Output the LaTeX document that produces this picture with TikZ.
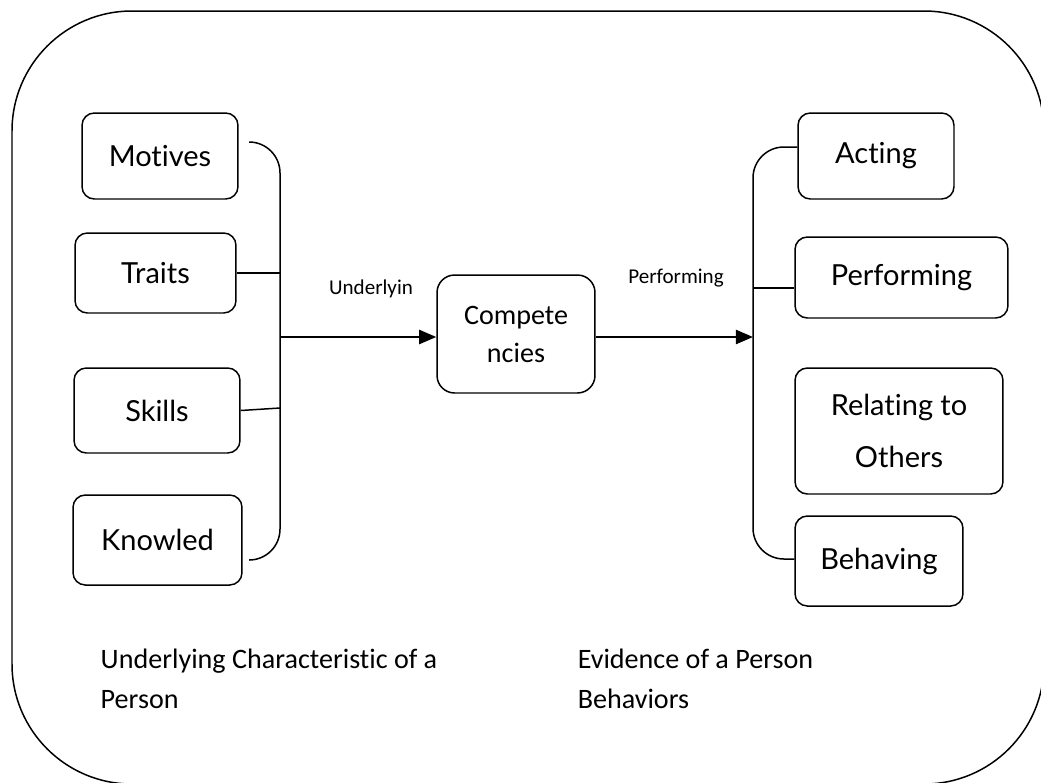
\documentclass[tikz,border=0pt]{standalone}
\usepackage{fontspec}
\setmainfont{Carlito}[Ligatures={NoCommon,NoContextual}]
\newfontfamily\boxfont{Lato}[Ligatures={NoCommon,NoContextual},Contextuals=NoAlternate]
\usetikzlibrary{arrows.meta}
\begin{document}
\begin{tikzpicture}[x=0.02cm,y=-0.02cm,
  line width=0.85pt,
  itembox/.style={draw, rounded corners=7pt, inner sep=0pt, align=center,
    font=\boxfont\fontsize{16.5}{29.6}\selectfont},
  corebox/.style={draw, rounded corners=10pt, inner sep=0pt, align=center,
    font=\fontsize{16}{21.6}\selectfont},
  flow/.style={line width=1.2pt, -{Triangle[length=9.7pt,width=8pt]}},
  tag/.style={font=\fontsize{12}{14}\selectfont, inner sep=0pt},
  caption/.style={font=\fontsize{16}{19}\selectfont, anchor=base west, inner sep=0pt}]
\useasboundingbox (0,0) rectangle (1041,782);

% outer frame
\draw[rounded corners=2.4cm] (12,11) rectangle (1044,784);

% underlying characteristics
\node[itembox, minimum width=3.12cm, minimum height=1.72cm] (mot) at (160,156) {Motives};
\node[itembox, minimum width=3.22cm, minimum height=1.60cm] (tra) at (155.5,273) {Traits};
\node[itembox, minimum width=3.32cm, minimum height=1.70cm] (ski) at (157,410.5) {Skills};
\node[itembox, minimum width=3.38cm, minimum height=1.80cm] (kno) at (157.5,540) {Knowled};

% competencies
\node[corebox, minimum width=3.16cm, minimum height=2.36cm] (com) at (516,334) {Compete\\ncies};

% behaviours
\node[itembox, minimum width=3.12cm, minimum height=1.72cm] (act) at (876,156) {Acting};
\node[itembox, minimum width=4.26cm, minimum height=1.62cm] (per) at (901.5,277.5) {Performing};
\node[itembox, minimum width=4.16cm, minimum height=2.52cm] (rel) at (899,431) {Relating to\\Others};
\node[itembox, minimum width=3.36cm, minimum height=1.80cm] (beh) at (879,561) {Behaving};

% left bracket
\coordinate (lt) at (249,142);
\coordinate (lb) at (249,560);
\coordinate (lbar) at (280,350);
\coordinate (lj) at (280,337);
\draw[rounded corners=17.6pt] (lt) -| (lbar) |- (lb);
\draw (tra.east) -- (tra.east -| lbar);
\draw (ski.east) -- (280,408);

% right bracket
\coordinate (rt) at (797,147);
\coordinate (rb) at (795,559);
\coordinate (rbar) at (753,350);
\coordinate (rj) at (753,337);
\coordinate (rp) at (753,288);
\draw[rounded corners=17.6pt] (act.west |- rt) -| (rbar) |- (beh.west |- rb);
\draw (rp) -- (rp -| per.west);

% main flow
\draw[flow] (lj) -- (lj -| com.west);
\draw[flow] (com.east |- lj) -- (rj);

\node[tag] (ul) at (371,289) {Underlyin};
\node[tag] (pl) at (676,278) {Performing};

% captions
\node[caption] (c1) at (100,668) {Underlying Characteristic of a};
\node[caption] (c2) at (100,708) {Person};
\node[caption] (c3) at (577,668) {Evidence of a Person};
\node[caption] (c4) at (577,708) {Behaviors};
\end{tikzpicture}
\end{document}
